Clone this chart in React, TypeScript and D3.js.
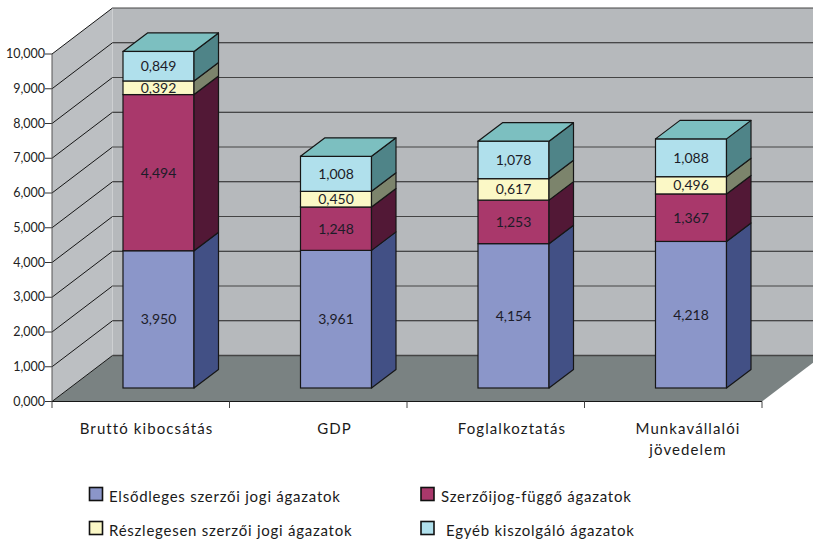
import React from "react";
import * as d3 from "d3";

const categories = ["Bruttó kibocsátás", "GDP", "Foglalkoztatás", "Munkavállalói|jövedelem"];
const seriesKeys = ["primary", "dependent", "partial", "other"];
const primary = [3.95, 3.961, 4.154, 4.218];
const dependent = [4.494, 1.248, 1.253, 1.367];
const partial = [0.392, 0.45, 0.617, 0.496];
const other = [0.849, 1.008, 1.078, 1.088];
const yTicks = [0, 1, 2, 3, 4, 5, 6, 7, 8, 9, 10];
const legendLabels = ["Elsődleges szerzői jogi ágazatok", "Szerzőijog-függő ágazatok", "Részlegesen szerzői jogi ágazatok", "Egyéb kiszolgáló ágazatok"];
const frontFill = ["#8b96c9", "#a9386b", "#fbf8c6", "#b0e0ec"];
const sideFill = ["#425085", "#521836", "#7c846c", "#4f8488"];
const topFill = "#7cbfc0";

const FONT = "Lato, 'Open Sans', sans-serif";
const left = 52, right = 762, floorY = 401.5, topY = 54;
const wallDx = 60.5, wallDy = -46;
const barDx = 24.5, barDy = -18.5, barBase = 388;
const ink = "#161616";
const labelShift = [-12, -1.5, -1.5, -3];

const fmt = (v: number) => v.toFixed(3).replace(".", ",");
const tickFmt = (v: number) => `${v},000`;

export default function App() {
  const y = d3.scaleLinear().domain([0, 10]).range([floorY, topY]);
  const x = d3.scaleBand<string>().domain(categories).range([left, right]).paddingInner(0.6).paddingOuter(0.3).align(2 / 3);
  const rows = categories.map((c, i) => ({ c, primary: primary[i], dependent: dependent[i], partial: partial[i], other: other[i] }));
  const stack = d3.stack<any>().keys(seriesKeys)(rows);
  const unit = floorY - y(1);
  const barY = (v: number) => barBase - v * unit;
  const ticksX = [...categories.map((c) => (x(c) as number) - x.step() * 0.4), right];
  const poly = (pts: number[][]) => pts.map((p) => p.join(",")).join(" ");

  return (
    <svg width={813} height={541} style={{ position: "absolute", left: 0, top: 0 }} fontFamily={FONT}>
      <rect width={813} height={541} fill="#fff" />
      <polygon points={poly([[left, floorY], [left + wallDx, floorY + wallDy], [left + wallDx, topY + wallDy], [left, topY]])} fill="#bcbfc2" />
      <rect x={left + wallDx} y={topY + wallDy} width={813 - left - wallDx} height={floorY - topY} fill="#b6b9bc" />
      <line x1={left + wallDx} x2={left + wallDx} y1={topY + wallDy} y2={floorY + wallDy} stroke="#cfd1d3" strokeWidth={0.8} />
      <polygon points={poly([[left, floorY], [right, floorY], [right + wallDx, floorY + wallDy], [left + wallDx, floorY + wallDy]])} fill="#7a8282" />
      {yTicks.map((t) => (
        <g key={t}>
          <line x1={left} y1={y(t)} x2={left + wallDx} y2={y(t) + wallDy} stroke={ink} strokeWidth={1} />
          <line x1={left + wallDx} y1={y(t) + wallDy} x2={813} y2={y(t) + wallDy} stroke={t % 2 ? "#222" : "#444"} strokeWidth={t === 0 ? 1.5 : 1} />
          <line x1={left - 7} y1={y(t)} x2={left} y2={y(t)} stroke="#333" strokeWidth={1} />
          <text x={45} y={y(t) + 4} fontSize={12.5} textAnchor="end" fill="#222">{tickFmt(t)}</text>
        </g>
      ))}
      <line x1={left} y1={topY} x2={left} y2={floorY} stroke="#555" strokeWidth={1} />
      <line x1={left} y1={floorY} x2={right} y2={floorY} stroke={ink} strokeWidth={1.2} />
      {ticksX.map((t, i) => (
        <line key={i} x1={t} x2={t} y1={floorY} y2={408} stroke="#444" strokeWidth={1} />
      ))}
      {categories.map((c, ci) => {
        const bx = x(c) as number;
        const w = x.bandwidth();
        return (
          <g key={c}>
            {stack.map((s, si) => {
              const d = s[ci];
              const y0 = barY(d[0]);
              const y1 = barY(d[1]);
              const val = d[1] - d[0];
              return (
                <g key={si}>
                  <rect x={bx} y={y1} width={w} height={y0 - y1} fill={frontFill[si]} stroke={ink} strokeWidth={1.2} />
                  <polygon
                    points={poly([[bx + w, y0], [bx + w + barDx, y0 + barDy], [bx + w + barDx, y1 + barDy], [bx + w, y1]])}
                    fill={sideFill[si]}
                    stroke={ink}
                    strokeWidth={1.2}
                    strokeLinejoin="round"
                  />
                  {si === stack.length - 1 && (
                    <polygon
                      points={poly([[bx, y1], [bx + barDx, y1 + barDy], [bx + w + barDx, y1 + barDy], [bx + w, y1]])}
                      fill={topFill}
                      stroke={ink}
                      strokeWidth={1.2}
                      strokeLinejoin="round"
                    />
                  )}
                  <text x={bx + w / 2} y={(y0 + y1) / 2 + 5} fontSize={14} textAnchor="middle" fill="#1c1c28">{fmt(val)}</text>
                </g>
              );
            })}
          </g>
        );
      })}
      {categories.map((c, ci) => {
        const cx = (x(c) as number) + x.bandwidth() / 2 + labelShift[ci];
        return (
          <text key={c} textAnchor="middle" fontSize={15} fill="#1a1a1a" letterSpacing={1.1}>
            {c.split("|").map((p, i) => (
              <tspan key={i} x={cx} y={434 + i * 21}>{p}</tspan>
            ))}
          </text>
        );
      })}
      {legendLabels.map((l, i) => {
        const col = i % 2;
        const row = Math.floor(i / 2);
        const sx = col ? 421 : 89.5;
        const sy = 487.5 + row * 34;
        const tx = col ? (i === 3 ? 446 : 441) : 109;
        return (
          <g key={l}>
            <rect x={sx} y={sy} width={13} height={13} fill={frontFill[i]} stroke="#111" strokeWidth={1.6} />
            <text x={tx} y={sy + 14.5} fontSize={15} fill="#1a1a1a" letterSpacing={0.75}>{l}</text>
          </g>
        );
      })}
    </svg>
  );
}
